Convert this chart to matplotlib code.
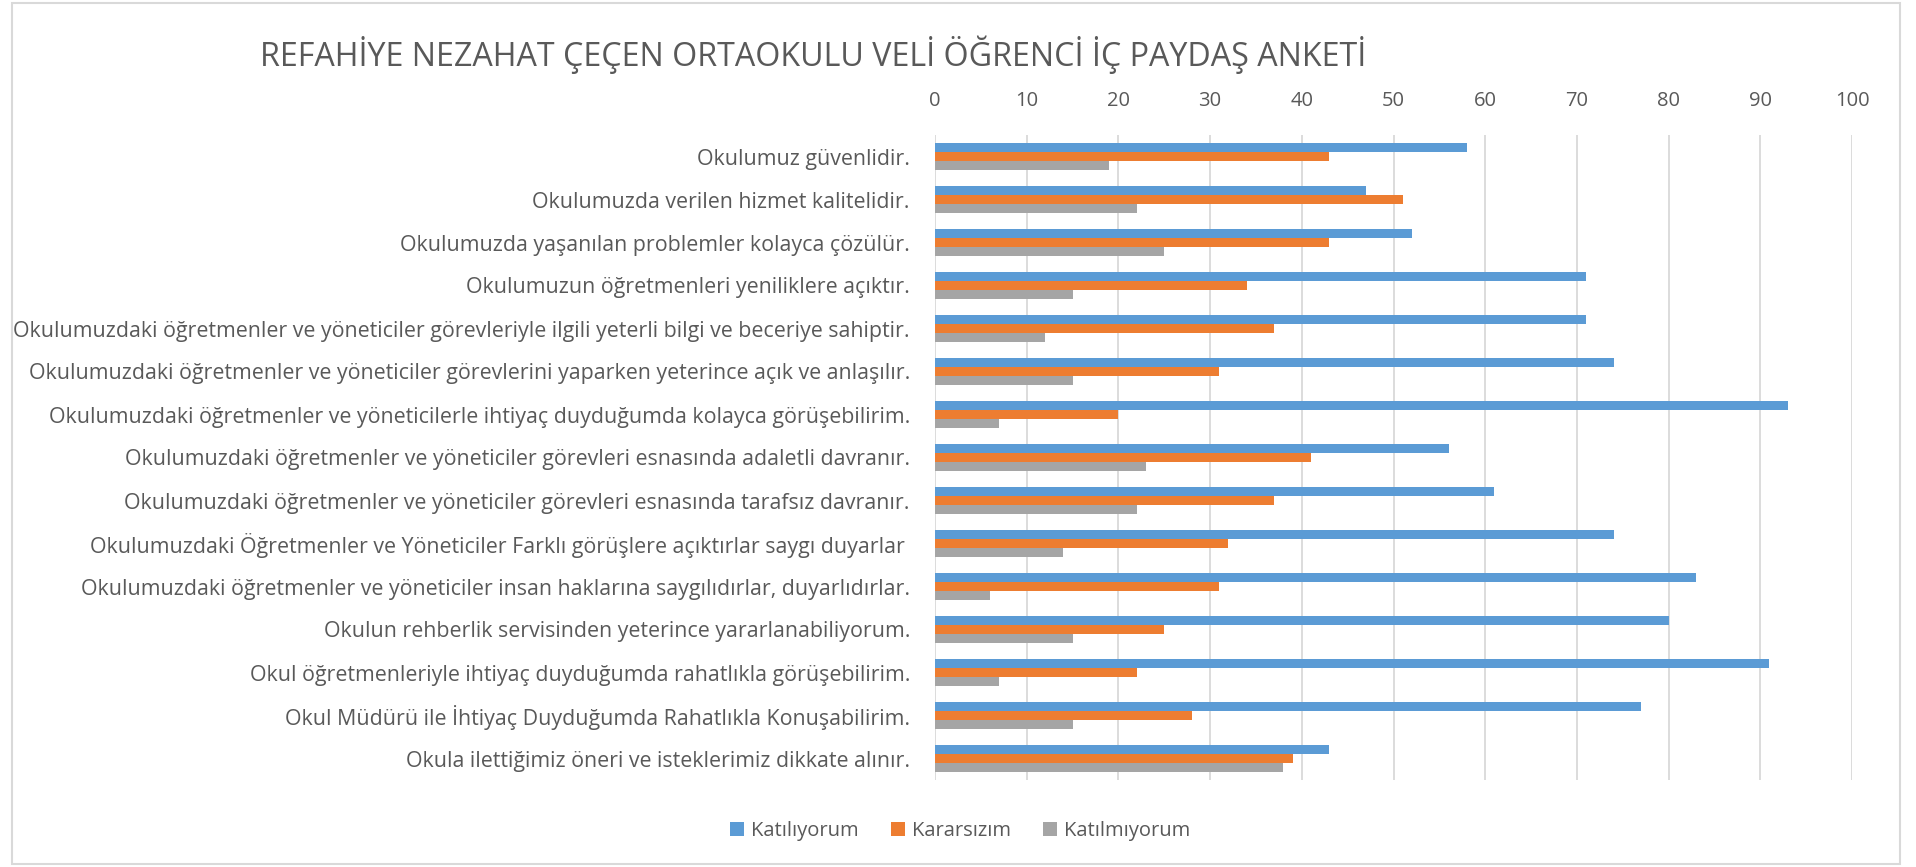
import matplotlib
matplotlib.use("Agg")
import matplotlib.pyplot as plt
from matplotlib.patches import Rectangle, Patch
import numpy as np

plt.rcParams['font.family'] = ['Open Sans', 'DejaVu Sans']

title = "REFAHİYE NEZAHAT ÇEÇEN ORTAOKULU VELİ ÖĞRENCİ İÇ PAYDAŞ ANKETİ"
categories = [
    "Okulumuz güvenlidir.",
    "Okulumuzda verilen hizmet kalitelidir.",
    "Okulumuzda yaşanılan problemler kolayca çözülür.",
    "Okulumuzun öğretmenleri yeniliklere açıktır.",
    "Okulumuzdaki öğretmenler ve yöneticiler görevleriyle ilgili yeterli bilgi ve beceriye sahiptir.",
    "Okulumuzdaki öğretmenler ve yöneticiler görevlerini yaparken yeterince açık ve anlaşılır.",
    "Okulumuzdaki öğretmenler ve yöneticilerle ihtiyaç duyduğumda kolayca görüşebilirim.",
    "Okulumuzdaki öğretmenler ve yöneticiler görevleri esnasında adaletli davranır.",
    "Okulumuzdaki öğretmenler ve yöneticiler görevleri esnasında tarafsız davranır.",
    "Okulumuzdaki Öğretmenler ve Yöneticiler Farklı görüşlere açıktırlar saygı duyarlar ",
    "Okulumuzdaki öğretmenler ve yöneticiler insan haklarına saygılıdırlar, duyarlıdırlar.",
    "Okulun rehberlik servisinden yeterince yararlanabiliyorum.",
    "Okul öğretmenleriyle ihtiyaç duyduğumda rahatlıkla görüşebilirim.",
    "Okul Müdürü ile İhtiyaç Duyduğumda Rahatlıkla Konuşabilirim.",
    "Okula ilettiğimiz öneri ve isteklerimiz dikkate alınır.",
]
katiliyorum = [58, 47, 52, 71, 71, 74, 93, 56, 61, 74, 83, 80, 91, 77, 43]
kararsizim = [43, 51, 43, 34, 37, 31, 20, 41, 37, 32, 31, 25, 22, 28, 39]
katilmiyorum = [19, 22, 25, 15, 12, 15, 7, 23, 22, 14, 6, 15, 7, 15, 38]
series_names = ["Katılıyorum", "Kararsızım", "Katılmıyorum"]
colors = ["#5B9BD5", "#ED7D31", "#A5A5A5"]
xticks = [0, 10, 20, 30, 40, 50, 60, 70, 80, 90, 100]

text_color = "#595959"
grid_color = "#D9D9D9"

fig = plt.figure(figsize=(19.16, 8.67), dpi=100)
fig.patch.set_facecolor("white")

# chart border
fig.patches.append(Rectangle((12/1916, 1 - 864/867), (1900-12)/1916, (864-3)/867,
                             transform=fig.transFigure, fill=False,
                             edgecolor=grid_color, linewidth=1.5))

ax = fig.add_axes([935/1916, 1 - 780/867, (1852-935)/1916, (780-135)/867])

y = np.arange(len(categories))
h = 0.21
for k, (vals, name, c) in enumerate(zip([katiliyorum, kararsizim, katilmiyorum], series_names, colors)):
    ax.barh(y + (k - 1) * h, vals, height=h, color=c, label=name, zorder=3)

ax.set_xlim(0, 100)
ax.set_ylim(len(categories) - 0.5, -0.5)
ax.set_xticks(xticks)
ax.xaxis.tick_top()
ax.tick_params(axis='x', length=0, pad=17, labelsize=14.5, labelcolor=text_color)
ax.set_yticks(y)
ax.set_yticklabels(categories)
ax.tick_params(axis='y', length=0, pad=18, labelsize=15.4, labelcolor=text_color)
ax.grid(axis='x', color=grid_color, linewidth=1.3, zorder=0)
for s in ax.spines.values():
    s.set_visible(False)

fig.text(813/1916, 1 - 55/867, title, ha='center', va='center', fontsize=23.2, color=text_color)

handles = [Patch(facecolor=c, label=n) for c, n in zip(colors, series_names)]
fig.legend(handles=handles, loc='center', bbox_to_anchor=(960/1916, 1 - 831/867), ncol=3,
           frameon=False, fontsize=14.5, labelcolor=text_color, handlelength=0.7,
           handleheight=0.7, handletextpad=0.35, columnspacing=1.6)

fig.savefig("out.png", dpi=100)
